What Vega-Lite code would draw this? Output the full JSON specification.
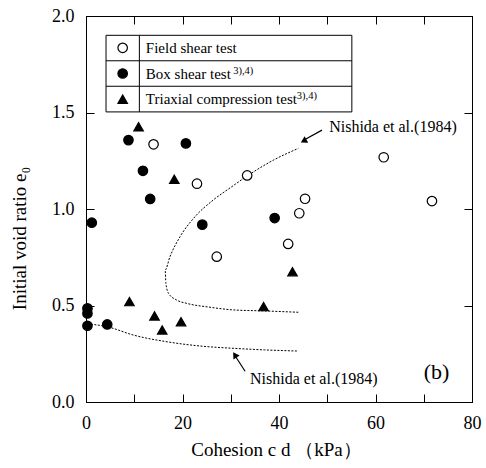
{
  "$schema": "https://vega.github.io/schema/vega-lite/v6.json",
  "width": 386,
  "height": 386,
  "autosize": {"type": "none"},
  "padding": {"left": 86, "top": 16, "right": 14, "bottom": 66},
  "background": "white",
  "config": {
    "view": {"stroke": "black", "strokeWidth": 1},
    "font": "Liberation Serif, Times New Roman, serif",
    "text": {"font": "Liberation Serif, Times New Roman, serif"},
    "axis": {
      "domainColor": "black",
      "tickColor": "black",
      "tickSize": -8,
      "grid": false,
      "labelFlush": false,
      "labelFont": "Liberation Serif, Times New Roman, serif",
      "labelFontSize": 18,
      "labelColor": "black",
      "titleFont": "Liberation Serif, Times New Roman, serif",
      "titleFontSize": 19,
      "titleFontWeight": "normal",
      "titleColor": "black"
    }
  },
  "datasets": {
    "points": [
      {"cd": 14.0, "e0": 1.335, "type": "Field shear test"},
      {"cd": 23.0, "e0": 1.131, "type": "Field shear test"},
      {"cd": 33.4, "e0": 1.174, "type": "Field shear test"},
      {"cd": 45.4, "e0": 1.053, "type": "Field shear test"},
      {"cd": 44.2, "e0": 0.978, "type": "Field shear test"},
      {"cd": 61.7, "e0": 1.268, "type": "Field shear test"},
      {"cd": 71.7, "e0": 1.041, "type": "Field shear test"},
      {"cd": 41.9, "e0": 0.819, "type": "Field shear test"},
      {"cd": 27.1, "e0": 0.753, "type": "Field shear test"},
      {"cd": 8.8, "e0": 1.357, "type": "Box shear test"},
      {"cd": 20.7, "e0": 1.34, "type": "Box shear test"},
      {"cd": 11.8, "e0": 1.198, "type": "Box shear test"},
      {"cd": 13.3, "e0": 1.052, "type": "Box shear test"},
      {"cd": 24.1, "e0": 0.919, "type": "Box shear test"},
      {"cd": 39.1, "e0": 0.953, "type": "Box shear test"},
      {"cd": 1.2, "e0": 0.929, "type": "Box shear test"},
      {"cd": 0.3, "e0": 0.485, "type": "Box shear test"},
      {"cd": 0.3, "e0": 0.459, "type": "Box shear test"},
      {"cd": 0.3, "e0": 0.395, "type": "Box shear test"},
      {"cd": 4.4, "e0": 0.402, "type": "Box shear test"},
      {"cd": 10.9, "e0": 1.426, "type": "Triaxial compression test"},
      {"cd": 18.3, "e0": 1.154, "type": "Triaxial compression test"},
      {"cd": 42.8, "e0": 0.675, "type": "Triaxial compression test"},
      {"cd": 9.0, "e0": 0.52, "type": "Triaxial compression test"},
      {"cd": 14.2, "e0": 0.446, "type": "Triaxial compression test"},
      {"cd": 15.8, "e0": 0.373, "type": "Triaxial compression test"},
      {"cd": 19.7, "e0": 0.416, "type": "Triaxial compression test"},
      {"cd": 36.8, "e0": 0.494, "type": "Triaxial compression test"}
    ],
    "curves": [
      {"curve": "upper", "k": 1, "cd": 44.0, "e0": 0.465},
      {"curve": "upper", "k": 2, "cd": 36.8, "e0": 0.472},
      {"curve": "upper", "k": 3, "cd": 30.6, "e0": 0.477},
      {"curve": "upper", "k": 4, "cd": 25.7, "e0": 0.491},
      {"curve": "upper", "k": 5, "cd": 20.9, "e0": 0.511},
      {"curve": "upper", "k": 6, "cd": 18.8, "e0": 0.528},
      {"curve": "upper", "k": 7, "cd": 17.1, "e0": 0.563},
      {"curve": "upper", "k": 8, "cd": 16.56, "e0": 0.615},
      {"curve": "upper", "k": 9, "cd": 16.4, "e0": 0.684},
      {"curve": "upper", "k": 10, "cd": 17.4, "e0": 0.753},
      {"curve": "upper", "k": 11, "cd": 19.5, "e0": 0.857},
      {"curve": "upper", "k": 12, "cd": 22.3, "e0": 0.952},
      {"curve": "upper", "k": 13, "cd": 26.4, "e0": 1.047},
      {"curve": "upper", "k": 14, "cd": 29.9, "e0": 1.11},
      {"curve": "upper", "k": 15, "cd": 33.4, "e0": 1.171},
      {"curve": "upper", "k": 16, "cd": 38.9, "e0": 1.254},
      {"curve": "upper", "k": 17, "cd": 44.0, "e0": 1.314},
      {"curve": "lower", "k": 1, "cd": 0.3, "e0": 0.405},
      {"curve": "lower", "k": 2, "cd": 4.4, "e0": 0.39},
      {"curve": "lower", "k": 3, "cd": 9.8, "e0": 0.347},
      {"curve": "lower", "k": 4, "cd": 16.8, "e0": 0.312},
      {"curve": "lower", "k": 5, "cd": 23.7, "e0": 0.29},
      {"curve": "lower", "k": 6, "cd": 30.7, "e0": 0.278},
      {"curve": "lower", "k": 7, "cd": 37.0, "e0": 0.27},
      {"curve": "lower", "k": 8, "cd": 44.0, "e0": 0.264}
    ]
  },
  "layer": [
    {
      "data": {"name": "curves"},
      "mark": {"type": "line", "color": "black", "strokeWidth": 1, "strokeDash": [2, 1.5], "interpolate": "monotone"},
      "encoding": {
        "x": {"field": "cd", "type": "quantitative", "scale": {"domain": [0, 80]},
              "axis": {"orient": "top", "labels": false, "title": null, "values": [0, 10, 20, 30, 40, 50, 60, 70, 80]}},
        "y": {"field": "e0", "type": "quantitative", "scale": {"domain": [0, 2]},
              "axis": {"orient": "right", "labels": false, "title": null, "values": [0, 0.5, 1, 1.5, 2]}},
        "detail": {"field": "curve"},
        "order": {"field": "k"}
      }
    },
    {
      "data": {"name": "points"},
      "mark": {"type": "point", "filled": true, "stroke": "black", "strokeWidth": 1.2, "opacity": 1, "size": 90},
      "encoding": {
        "x": {"field": "cd", "type": "quantitative", "scale": {"domain": [0, 80]},
              "axis": {"orient": "bottom", "values": [0, 10, 20, 30, 40, 50, 60, 70, 80],
                       "labelExpr": "datum.value % 20 == 0 ? datum.label : ''",
                       "labelPadding": 20, "title": "Cohesion   c d  （kPa）",
                       "titleX": 190, "titleY": 53, "titleBaseline": "alphabetic"}},
        "y": {"field": "e0", "type": "quantitative", "scale": {"domain": [0, 2]},
              "axis": {"orient": "left", "values": [0, 0.5, 1, 1.5, 2], "format": ".1f",
                       "labelPadding": 20, "title": "Initial void ratio  e₀",
                       "titleX": -61, "titleY": 222, "titleBaseline": "alphabetic"}},
        "shape": {"field": "type", "type": "nominal", "legend": null,
                  "scale": {"domain": ["Field shear test", "Box shear test", "Triaxial compression test"], "range": ["circle", "circle", "triangle-up"]}},
        "fill": {"field": "type", "type": "nominal", "legend": null,
                 "scale": {"domain": ["Field shear test", "Box shear test", "Triaxial compression test"], "range": ["white", "black", "black"]}}
      }
    },
    {
      "data": {"values": [{}]},
      "mark": {"type": "rect", "fill": "white", "stroke": "black", "strokeWidth": 1},
      "encoding": {
        "x": {"datum": 4.15, "type": "quantitative", "scale": {"domain": [0, 80]}, "axis": null},
        "x2": {"datum": 55.1},
        "y": {"datum": 1.503, "type": "quantitative", "scale": {"domain": [0, 2]}, "axis": null},
        "y2": {"datum": 1.9}
      }
    },
    {
      "data": {"values": [{}]},
      "mark": {"type": "rule", "color": "black", "strokeWidth": 1},
      "encoding": {
        "x": {"datum": 4.15, "type": "quantitative", "scale": {"domain": [0, 80]}, "axis": null},
        "x2": {"datum": 55.1},
        "y": {"datum": 1.768, "type": "quantitative", "scale": {"domain": [0, 2]}, "axis": null}
      }
    },
    {
      "data": {"values": [{}]},
      "mark": {"type": "rule", "color": "black", "strokeWidth": 1},
      "encoding": {
        "x": {"datum": 4.15, "type": "quantitative", "scale": {"domain": [0, 80]}, "axis": null},
        "x2": {"datum": 55.1},
        "y": {"datum": 1.636, "type": "quantitative", "scale": {"domain": [0, 2]}, "axis": null}
      }
    },
    {
      "data": {"values": [{}]},
      "mark": {"type": "rule", "color": "black", "strokeWidth": 1},
      "encoding": {
        "x": {"datum": 11.06, "type": "quantitative", "scale": {"domain": [0, 80]}, "axis": null},
        "y": {"datum": 1.503, "type": "quantitative", "scale": {"domain": [0, 2]}, "axis": null},
        "y2": {"datum": 1.9}
      }
    },
    {
      "data": {"values": [{}]},
      "mark": {"type": "point", "filled": true, "stroke": "black", "strokeWidth": 1.2, "opacity": 1, "size": 90},
      "encoding": {
        "x": {"datum": 7.6, "type": "quantitative", "scale": {"domain": [0, 80]}, "axis": null},
        "y": {"datum": 1.835, "type": "quantitative", "scale": {"domain": [0, 2]}, "axis": null},
        "shape": {"datum": "Field shear test", "type": "nominal", "legend": null},
        "fill": {"datum": "Field shear test", "type": "nominal", "legend": null}
      }
    },
    {
      "data": {"values": [{}]},
      "mark": {"type": "point", "filled": true, "stroke": "black", "strokeWidth": 1.2, "opacity": 1, "size": 90},
      "encoding": {
        "x": {"datum": 7.6, "type": "quantitative", "scale": {"domain": [0, 80]}, "axis": null},
        "y": {"datum": 1.702, "type": "quantitative", "scale": {"domain": [0, 2]}, "axis": null},
        "shape": {"datum": "Box shear test", "type": "nominal", "legend": null},
        "fill": {"datum": "Box shear test", "type": "nominal", "legend": null}
      }
    },
    {
      "data": {"values": [{}]},
      "mark": {"type": "point", "filled": true, "stroke": "black", "strokeWidth": 1.2, "opacity": 1, "size": 90},
      "encoding": {
        "x": {"datum": 7.6, "type": "quantitative", "scale": {"domain": [0, 80]}, "axis": null},
        "y": {"datum": 1.569, "type": "quantitative", "scale": {"domain": [0, 2]}, "axis": null},
        "shape": {"datum": "Triaxial compression test", "type": "nominal", "legend": null},
        "fill": {"datum": "Triaxial compression test", "type": "nominal", "legend": null}
      }
    },
    {
      "data": {"values": [{}]},
      "mark": {"type": "text", "align": "left", "baseline": "middle", "fontSize": 15, "color": "black"},
      "encoding": {
        "x": {"datum": 12.4, "type": "quantitative", "scale": {"domain": [0, 80]}, "axis": null},
        "y": {"datum": 1.835, "type": "quantitative", "scale": {"domain": [0, 2]}, "axis": null},
        "text": {"value": "Field shear test"}
      }
    },
    {
      "data": {"values": [{}]},
      "mark": {"type": "text", "align": "left", "baseline": "middle", "fontSize": 15, "color": "black"},
      "encoding": {
        "x": {"datum": 12.4, "type": "quantitative", "scale": {"domain": [0, 80]}, "axis": null},
        "y": {"datum": 1.702, "type": "quantitative", "scale": {"domain": [0, 2]}, "axis": null},
        "text": {"value": "Box shear test"}
      }
    },
    {
      "data": {"values": [{}]},
      "mark": {"type": "text", "align": "left", "baseline": "middle", "fontSize": 15, "color": "black"},
      "encoding": {
        "x": {"datum": 12.4, "type": "quantitative", "scale": {"domain": [0, 80]}, "axis": null},
        "y": {"datum": 1.569, "type": "quantitative", "scale": {"domain": [0, 2]}, "axis": null},
        "text": {"value": "Triaxial compression test"}
      }
    },
    {
      "data": {"values": [{}]},
      "mark": {"type": "text", "align": "left", "baseline": "middle", "fontSize": 10.5, "color": "black"},
      "encoding": {
        "x": {"datum": 30.5, "type": "quantitative", "scale": {"domain": [0, 80]}, "axis": null},
        "y": {"datum": 1.717, "type": "quantitative", "scale": {"domain": [0, 2]}, "axis": null},
        "text": {"value": "3),4)"}
      }
    },
    {
      "data": {"values": [{}]},
      "mark": {"type": "text", "align": "left", "baseline": "middle", "fontSize": 10.5, "color": "black"},
      "encoding": {
        "x": {"datum": 43.7, "type": "quantitative", "scale": {"domain": [0, 80]}, "axis": null},
        "y": {"datum": 1.584, "type": "quantitative", "scale": {"domain": [0, 2]}, "axis": null},
        "text": {"value": "3),4)"}
      }
    },
    {
      "data": {"values": [{}]},
      "mark": {"type": "text", "align": "left", "baseline": "middle", "fontSize": 16, "color": "black"},
      "encoding": {
        "x": {"datum": 50.4, "type": "quantitative", "scale": {"domain": [0, 80]}, "axis": null},
        "y": {"datum": 1.425, "type": "quantitative", "scale": {"domain": [0, 2]}, "axis": null},
        "text": {"value": "Nishida et al.(1984)"}
      }
    },
    {
      "data": {"values": [{}]},
      "mark": {"type": "text", "align": "left", "baseline": "middle", "fontSize": 16, "color": "black"},
      "encoding": {
        "x": {"datum": 34.0, "type": "quantitative", "scale": {"domain": [0, 80]}, "axis": null},
        "y": {"datum": 0.119, "type": "quantitative", "scale": {"domain": [0, 2]}, "axis": null},
        "text": {"value": "Nishida et al.(1984)"}
      }
    },
    {
      "data": {"values": [{}]},
      "mark": {"type": "text", "align": "left", "baseline": "middle", "fontSize": 22, "color": "black"},
      "encoding": {
        "x": {"datum": 70.0, "type": "quantitative", "scale": {"domain": [0, 80]}, "axis": null},
        "y": {"datum": 0.156, "type": "quantitative", "scale": {"domain": [0, 2]}, "axis": null},
        "text": {"value": "(b)"}
      }
    },
    {
      "data": {"values": [{}]},
      "mark": {"type": "point", "shape": "stroke", "filled": false, "stroke": "black", "strokeWidth": 1.2, "opacity": 1, "size": 420, "angle": 331},
      "encoding": {
        "x": {"datum": 47.05, "type": "quantitative", "scale": {"domain": [0, 80]}, "axis": null},
        "y": {"datum": 1.383, "type": "quantitative", "scale": {"domain": [0, 2]}, "axis": null}
      }
    },
    {
      "data": {"values": [{}]},
      "mark": {"type": "point", "shape": "triangle-up", "filled": true, "color": "black", "opacity": 1, "size": 55, "angle": 241},
      "encoding": {
        "x": {"datum": 45.1, "type": "quantitative", "scale": {"domain": [0, 80]}, "axis": null},
        "y": {"datum": 1.352, "type": "quantitative", "scale": {"domain": [0, 2]}, "axis": null}
      }
    },
    {
      "data": {"values": [{}]},
      "mark": {"type": "point", "shape": "stroke", "filled": false, "stroke": "black", "strokeWidth": 1.2, "opacity": 1, "size": 300, "angle": 57},
      "encoding": {
        "x": {"datum": 32.0, "type": "quantitative", "scale": {"domain": [0, 80]}, "axis": null},
        "y": {"datum": 0.197, "type": "quantitative", "scale": {"domain": [0, 2]}, "axis": null}
      }
    },
    {
      "data": {"values": [{}]},
      "mark": {"type": "point", "shape": "triangle-up", "filled": true, "color": "black", "opacity": 1, "size": 55, "angle": 327},
      "encoding": {
        "x": {"datum": 30.85, "type": "quantitative", "scale": {"domain": [0, 80]}, "axis": null},
        "y": {"datum": 0.244, "type": "quantitative", "scale": {"domain": [0, 2]}, "axis": null}
      }
    }
  ],
  "resolve": {"axis": {"x": "independent", "y": "independent"}}
}
